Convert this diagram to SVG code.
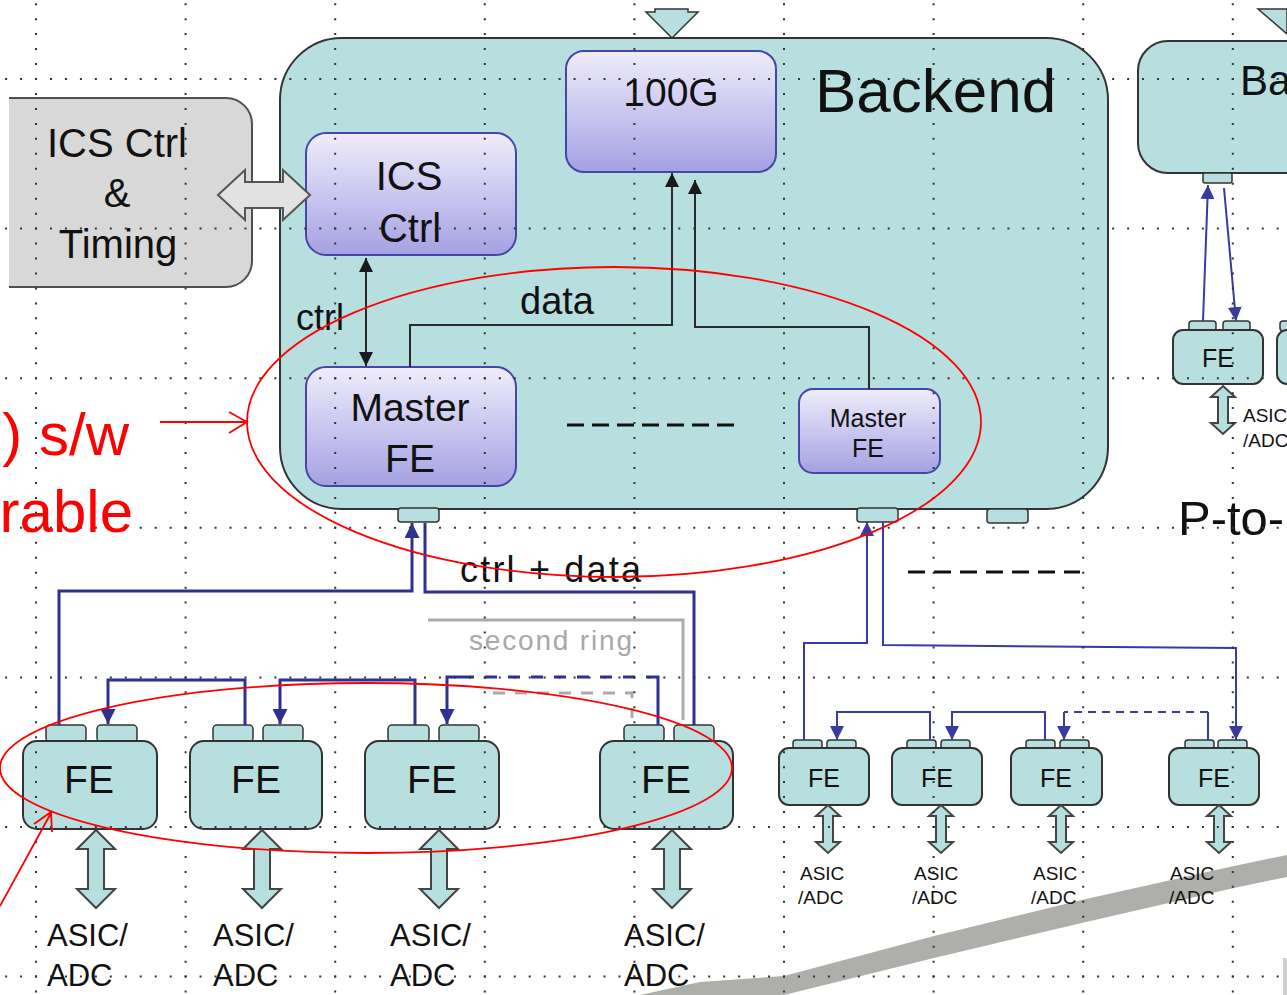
<svg xmlns="http://www.w3.org/2000/svg" width="1287" height="995" viewBox="0 0 1287 995">
<defs>
<linearGradient id="purple" x1="0" y1="0" x2="0" y2="1">
<stop offset="0" stop-color="#efedfb"/>
<stop offset="1" stop-color="#a5a1e3"/>
</linearGradient>
<marker id="ah" markerUnits="userSpaceOnUse" markerWidth="15" markerHeight="15" refX="15" refY="7.5" orient="auto" viewBox="0 0 15 15"><path d="M0,0 L15,7.5 L0,15 z" fill="#2e3192"/></marker>
<marker id="ahs" markerUnits="userSpaceOnUse" markerWidth="14" markerHeight="14" refX="14" refY="7" orient="auto" viewBox="0 0 14 14"><path d="M0,0 L14,7 L0,14 z" fill="#3a3aa0"/></marker>
<marker id="ahk" markerUnits="userSpaceOnUse" markerWidth="14" markerHeight="14" refX="14" refY="7" orient="auto-start-reverse" viewBox="0 0 14 14"><path d="M0,0 L14,7 L0,14 z" fill="#1a1a1a"/></marker>
<path id="dbl" d="M0,0 L19,19 L8,19 L8,59 L19,59 L0,78 L-19,59 L-8,59 L-8,19 L-19,19 Z"/>
<path id="dbls" d="M0,0 L12,11 L5,11 L5,37 L12,37 L0,48 L-12,37 L-5,37 L-5,11 L-12,11 Z"/>
</defs>
<style>
.t{font-family:"Liberation Sans",Arial,sans-serif;fill:#111}
.c{text-anchor:middle}
.teal{fill:#b7dfe0;stroke:#333;stroke-width:2}
.port{fill:#b7dfe0;stroke:#333;stroke-width:1.5}
.pbox{fill:url(#purple);stroke:#4646a6;stroke-width:2}
.ring{fill:none;stroke:#2e3192;stroke-width:3}
.ring2{fill:none;stroke:#3a3aa0;stroke-width:2}
.blk{fill:none;stroke:#2a2a2a;stroke-width:2}
.gray{fill:none;stroke:#ababab;stroke-width:3}
.red{fill:none;stroke:#ff0000;stroke-width:1.8}
.rt{font-family:"Liberation Sans",Arial,sans-serif;fill:#ff0000;text-anchor:end}
.grid{stroke:#333;stroke-width:2;stroke-dasharray:2 12.96}
.barrow{fill:#b7dfe0;stroke:#444;stroke-width:2}
</style>
<rect x="0" y="0" width="1287" height="995" fill="#ffffff"/>

<!-- diagonal gray band -->
<path d="M640,995 L700,982 L784,976 L934,936 L1086,899 L1234,866 L1287,855 L1287,877 L1234,888 L1086,922 L934,958 L784,995 Z" fill="#aeaeaa"/>
<rect x="1283" y="958" width="4" height="37" fill="#cfcfcf"/>

<!-- ICS Ctrl & Timing -->
<g id="ics-timing">
<path d="M9,98 H226 A26,26 0 0 1 252,124 V261 A26,26 0 0 1 226,287 H9" fill="#d8d8d8" stroke="#505050" stroke-width="2"/>
<text class="t c" x="117" y="157" font-size="40">ICS Ctrl</text>
<text class="t c" x="117" y="207" font-size="40">&amp;</text>
<text class="t c" x="118" y="258" font-size="40">Timing</text>
</g>

<!-- input arrow top -->
<g id="input-arrow">
<polygon points="655,9 688,9 688,12 698,12 672,38 646,12 655,12" fill="#b7dfe0" stroke="#333" stroke-width="1.5"/>
</g>

<!-- Backend -->
<g id="backend">
<rect x="280" y="38" width="828" height="471" rx="62" class="teal"/>
<text class="t" x="815" y="112" font-size="62">Backend</text>
<rect x="398" y="508" width="41" height="14" rx="3" class="port"/>
<rect x="857" y="508" width="41" height="14" rx="3" class="port"/>
<rect x="987" y="509" width="41" height="14" rx="3" class="port"/>
</g>

<g id="ics-ctrl">
<rect x="306" y="133" width="210" height="122" rx="20" class="pbox"/>
<text class="t c" x="409" y="190" font-size="40">ICS</text>
<text class="t c" x="410" y="242" font-size="40">Ctrl</text>
</g>

<g id="g100">
<rect x="566" y="51" width="210" height="121" rx="18" class="pbox"/>
<text class="t c" x="671" y="106" font-size="39">100G</text>
</g>

<g id="master-fe-1">
<rect x="306" y="367" width="210" height="119" rx="20" class="pbox"/>
<text class="t c" x="410" y="421" font-size="39">Master</text>
<text class="t c" x="410" y="472" font-size="39">FE</text>
</g>

<g id="master-fe-2">
<rect x="799" y="389" width="141" height="84" rx="14" class="pbox"/>
<text class="t c" x="868" y="427" font-size="25">Master</text>
<text class="t c" x="868" y="457" font-size="25">FE</text>
</g>

<g id="ellipsis-1">
<line x1="567" y1="425" x2="740" y2="425" stroke="#111" stroke-width="3" stroke-dasharray="17 8"/>
</g>
<g id="ellipsis-2">
<line x1="908" y1="572" x2="1080" y2="572" stroke="#111" stroke-width="3" stroke-dasharray="17 9"/>
</g>

<!-- Second backend (partial) -->
<g id="backend-2">
<polygon points="1258,9 1287,9 1287,34" fill="#b7dfe0" stroke="#333" stroke-width="1.5"/>
<rect x="1138" y="41" width="180" height="132" rx="30" class="teal"/>
<text class="t" x="1240" y="95" font-size="42">Ba</text>
<rect x="1203" y="173" width="29" height="10" rx="2" class="port"/>
</g>

<g id="fe-r0">
<rect x="1189" y="321" width="27" height="10" rx="3" class="port"/>
<rect x="1223" y="321" width="27" height="10" rx="3" class="port"/>
<rect x="1173" y="330" width="90" height="54" rx="10" class="teal"/>
<text class="t c" x="1218" y="367" font-size="25">FE</text>
<use href="#dbls" x="1223" y="386" class="barrow"/>
<text class="t" x="1243" y="422" font-size="19">ASIC</text>
<text class="t" x="1243" y="447" font-size="19">/ADC</text>
</g>
<g id="fe-r0b">
<rect x="1280" y="321" width="20" height="10" rx="3" class="port"/>
<rect x="1277" y="330" width="30" height="54" rx="10" class="teal"/>
</g>
<text class="t" x="1178" y="535" font-size="49">P-to-</text>

<!-- Left FE ring -->
<g id="fe1">
<rect x="46" y="725" width="40" height="17" rx="4" class="port"/>
<rect x="97" y="725" width="40" height="17" rx="4" class="port"/>
<rect x="23" y="741" width="134" height="88" rx="14" class="teal"/>
<text class="t c" x="89" y="793" font-size="39">FE</text>
<use href="#dbl" x="96" y="830" class="barrow"/>
<text class="t" x="47" y="946" font-size="31">ASIC/</text>
<text class="t" x="47" y="986" font-size="31">ADC</text>
</g>
<g id="fe2">
<rect x="213" y="725" width="40" height="17" rx="4" class="port"/>
<rect x="263" y="725" width="40" height="17" rx="4" class="port"/>
<rect x="190" y="741" width="132" height="88" rx="14" class="teal"/>
<text class="t c" x="256" y="793" font-size="39">FE</text>
<use href="#dbl" x="262" y="830" class="barrow"/>
<text class="t" x="213" y="946" font-size="31">ASIC/</text>
<text class="t" x="213" y="986" font-size="31">ADC</text>
</g>
<g id="fe3">
<rect x="388" y="725" width="41" height="17" rx="4" class="port"/>
<rect x="439" y="725" width="40" height="17" rx="4" class="port"/>
<rect x="365" y="741" width="134" height="88" rx="14" class="teal"/>
<text class="t c" x="432" y="793" font-size="39">FE</text>
<use href="#dbl" x="439" y="830" class="barrow"/>
<text class="t" x="390" y="946" font-size="31">ASIC/</text>
<text class="t" x="390" y="986" font-size="31">ADC</text>
</g>
<g id="fe4">
<rect x="624" y="725" width="40" height="17" rx="4" class="port"/>
<rect x="674" y="725" width="40" height="17" rx="4" class="port"/>
<rect x="600" y="741" width="133" height="88" rx="14" class="teal"/>
<text class="t c" x="666" y="793" font-size="39">FE</text>
<use href="#dbl" x="672" y="830" class="barrow"/>
<text class="t" x="624" y="946" font-size="31">ASIC/</text>
<text class="t" x="624" y="986" font-size="31">ADC</text>
</g>

<!-- Right FE group -->
<g id="fe-a">
<rect x="793" y="740" width="29" height="9" rx="3" class="port"/>
<rect x="827" y="740" width="29" height="9" rx="3" class="port"/>
<rect x="779" y="748" width="90" height="57" rx="10" class="teal"/>
<text class="t c" x="824" y="787" font-size="25">FE</text>
<use href="#dbls" x="828" y="805" class="barrow"/>
<text class="t" x="800" y="880" font-size="19">ASIC</text>
<text class="t" x="798" y="904" font-size="19">/ADC</text>
</g>
<g id="fe-b">
<rect x="907" y="740" width="29" height="9" rx="3" class="port"/>
<rect x="941" y="740" width="29" height="9" rx="3" class="port"/>
<rect x="892" y="748" width="90" height="57" rx="10" class="teal"/>
<text class="t c" x="937" y="787" font-size="25">FE</text>
<use href="#dbls" x="941" y="805" class="barrow"/>
<text class="t" x="914" y="880" font-size="19">ASIC</text>
<text class="t" x="912" y="904" font-size="19">/ADC</text>
</g>
<g id="fe-c">
<rect x="1026" y="740" width="29" height="9" rx="3" class="port"/>
<rect x="1060" y="740" width="29" height="9" rx="3" class="port"/>
<rect x="1011" y="748" width="91" height="57" rx="10" class="teal"/>
<text class="t c" x="1056" y="787" font-size="25">FE</text>
<use href="#dbls" x="1061" y="805" class="barrow"/>
<text class="t" x="1033" y="880" font-size="19">ASIC</text>
<text class="t" x="1031" y="904" font-size="19">/ADC</text>
</g>
<g id="fe-d">
<rect x="1185" y="740" width="29" height="9" rx="3" class="port"/>
<rect x="1218" y="740" width="29" height="9" rx="3" class="port"/>
<rect x="1169" y="748" width="90" height="57" rx="10" class="teal"/>
<text class="t c" x="1214" y="787" font-size="25">FE</text>
<use href="#dbls" x="1219" y="805" class="barrow"/>
<text class="t" x="1170" y="880" font-size="19">ASIC</text>
<text class="t" x="1169" y="904" font-size="19">/ADC</text>
</g>

<!-- Connectors -->
<g id="connectors">
<polygon points="218,195 245,170 245,182 283,182 283,170 310,195 283,220 283,208 245,208 245,220" fill="#e2e2e2" stroke="#555" stroke-width="2"/>
<path d="M366,258 V366" class="blk" marker-start="url(#ahk)" marker-end="url(#ahk)"/>
<path d="M410,367 V325 H672 V173" class="blk" marker-end="url(#ahk)"/>
<path d="M869,389 V327 H695 V180" class="blk" marker-end="url(#ahk)"/>

<path d="M59,725 V591 H412 V523" class="ring" marker-end="url(#ah)"/>
<path d="M425,523 V592 H694 V725" class="ring"/>
<path d="M245,725 V680 H108 V724" class="ring" marker-end="url(#ah)"/>
<path d="M415,725 V680 H280 V724" class="ring" marker-end="url(#ah)"/>
<path d="M462,677 H447 V724" class="ring" marker-end="url(#ah)"/>
<path d="M462,677 H646" class="ring" stroke-dasharray="12 11"/>
<path d="M646,677 H658 V725" class="ring"/>

<path d="M428,620 H683 V720" class="gray"/>
<path d="M493,693 H632 V718" class="gray" stroke-dasharray="12 10"/>

<path d="M804,740 V643 H867 V522" class="ring2" marker-end="url(#ahs)"/>
<path d="M883,522 V645 L1236,648 V740" class="ring2" marker-end="url(#ahs)"/>
<path d="M930,740 V712 H837 V740" class="ring2" marker-end="url(#ahs)"/>
<path d="M1045,740 V712 H952 V740" class="ring2" marker-end="url(#ahs)"/>
<path d="M1208,740 V712" class="ring2"/>
<path d="M1208,712 H1064" class="ring2" stroke-dasharray="8 6"/>
<path d="M1064,712 V740" class="ring2" marker-end="url(#ahs)"/>

<path d="M1203,321 L1208,185" class="ring2" marker-end="url(#ahs)"/>
<path d="M1224,188 L1236,321" class="ring2" marker-end="url(#ahs)"/>
</g>

<!-- connector labels -->
<text class="t" x="296" y="330" font-size="36">ctrl</text>
<text class="t" x="520" y="314" font-size="38">data</text>
<text class="t" x="460" y="582" font-size="36" textLength="181">ctrl + data</text>
<text class="t" x="469" y="650" font-size="28" textLength="163" style="fill:#a8a8a8">second ring</text>

<!-- Grid overlay -->
<g id="grid">
<line class="grid" x1="36" y1="3.2" x2="36" y2="995"/>
<line class="grid" x1="185.6" y1="3.2" x2="185.6" y2="995"/>
<line class="grid" x1="335.2" y1="3.2" x2="335.2" y2="995"/>
<line class="grid" x1="484.8" y1="3.2" x2="484.8" y2="995"/>
<line class="grid" x1="634.4" y1="3.2" x2="634.4" y2="995"/>
<line class="grid" x1="784" y1="3.2" x2="784" y2="995"/>
<line class="grid" x1="933.6" y1="3.2" x2="933.6" y2="995"/>
<line class="grid" x1="1083.2" y1="3.2" x2="1083.2" y2="995"/>
<line class="grid" x1="1232.8" y1="3.2" x2="1232.8" y2="995"/>
<line class="grid" x1="5.1" y1="79" x2="1287" y2="79"/>
<line class="grid" x1="5.1" y1="228.6" x2="1287" y2="228.6"/>
<line class="grid" x1="5.1" y1="378.2" x2="1287" y2="378.2"/>
<line class="grid" x1="5.1" y1="527.8" x2="1287" y2="527.8"/>
<line class="grid" x1="5.1" y1="677.4" x2="1287" y2="677.4"/>
<line class="grid" x1="5.1" y1="827" x2="1287" y2="827"/>
<line class="grid" x1="5.1" y1="976.6" x2="1287" y2="976.6"/>
</g>

<!-- Red annotations -->
<g id="annotations">
<text class="rt" x="129" y="455" font-size="60">) s/w</text>
<text class="rt" x="133" y="532" font-size="60">rable</text>
<ellipse cx="614" cy="422" rx="367" ry="155" class="red"/>
<path d="M160,422 H246 M229,412 L247,422 L229,433" class="red"/>
<ellipse cx="366" cy="768" rx="366" ry="85" class="red"/>
<path d="M0,906 L51,813 M34,824 L51,812 L52,832" class="red"/>
</g>
</svg>
